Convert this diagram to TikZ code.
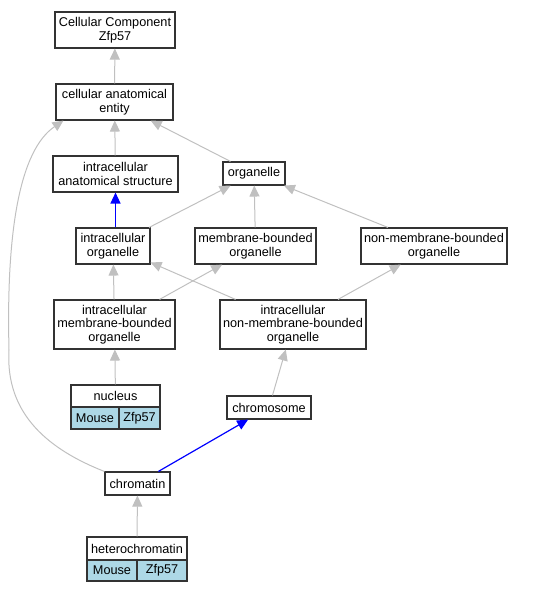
\documentclass[tikz,border=0pt]{standalone}
\usepackage{fontspec}
\setmainfont{Liberation Sans}
\usepackage{tikz}
\usetikzlibrary{arrows.meta}
\definecolor{edgegray}{HTML}{C0C0C0}
\definecolor{genebox}{HTML}{ADD8E6}

\begin{document}
\begin{tikzpicture}[x=1pt,y=-1pt,
  term/.style n args={2}{draw=black!80,line width=1.1pt,fill=white,inner sep=0pt,align=center,
    minimum width=#1pt,minimum height=#2pt,font=\fontsize{12.7}{13.5}\selectfont},
  gene/.style n args={2}{term={#1}{#2},fill=genebox},
  isa/.style={draw=edgegray,line width=1pt,-{Triangle[length=11pt,width=10pt]}},
  partof/.style={draw=blue,line width=1.2pt,-{Triangle[length=11pt,width=10pt]}}]
\useasboundingbox (0,0) rectangle (534,592);
% terms
\node[term={120}{36}] (cc)    at (115,30)     {Cellular Component\\Zfp57};
\node[term={117}{36}] (cae)   at (114.5,102)  {cellular anatomical\\entity};
\node[term={125}{36}] (ias)   at (115.5,174)  {intracellular\\anatomical structure};
\node[term={62}{23}]  (org)   at (254,173.5)  {organelle};
\node[term={74}{36}]  (io)    at (113,246)    {intracellular\\organelle};
\node[term={121}{36}] (mbo)   at (255.5,246)  {membrane-bounded\\organelle};
\node[term={146}{36}] (nmbo)  at (434,246)    {non-membrane-bounded\\organelle};
\node[term={121}{49}] (imbo)  at (114.5,324.5){intracellular\\membrane-bounded\\organelle};
\node[term={146}{49}] (inmbo) at (293,324.5)  {intracellular\\non-membrane-bounded\\organelle};
\node[term={84}{23}]  (chrs)  at (269,407.5)  {chromosome};
\node[term={65}{23}]  (chrt)  at (137.5,483.5){chromatin};
% annotated terms
\node[term={89}{22}]  (nuc)   at (115.5,396)  {nucleus};
\node[gene={48}{22}]  (nucm)  at (95,418)     {Mouse};
\node[gene={41}{22}]  (nucz)  at (139.5,418)  {Zfp57};
\node[term={100}{23}] (het)   at (137,548.5)  {heterochromatin};
\node[gene={50}{21}]  (hetm)  at (112,570.5)  {Mouse};
\node[gene={50}{21}]  (hetz)  at (162,570.5)  {Zfp57};
% is_a edges
\foreach \a/\b in %
{cae/cc,ias/cae,org/cae,io/org,mbo/org,nmbo/org,imbo/io,imbo/mbo,%
 inmbo/io,inmbo/nmbo,nuc/imbo,chrs/inmbo,het/chrt} {
   \draw[isa] (\a) -- (\b);
}
\draw[isa] (chrt.160) .. controls (50,450) and (5,415) .. (9,350)
   .. controls (6,230) and (20,150) .. (cae.200);
% part_of edges
\draw[partof] (io.north -| ias.south) -- (ias.south);
\draw[partof] (chrt) -- (chrs);
\end{tikzpicture}
\end{document}
